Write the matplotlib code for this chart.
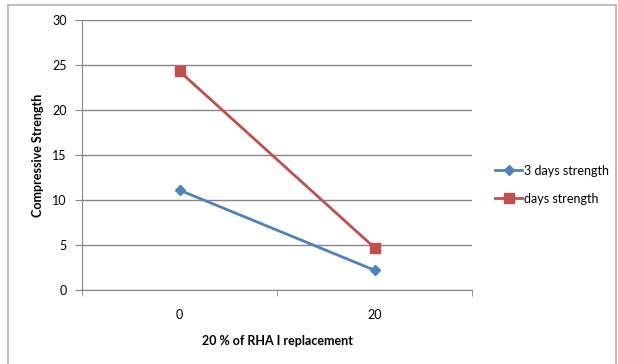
import matplotlib
matplotlib.use("Agg")
import matplotlib.pyplot as plt
from matplotlib.patches import Rectangle

categories = ["0", "20"]
strength_3day = [11.1, 2.2]
strength_days = [24.3, 4.7]
yticks = [0, 5, 10, 15, 20, 25, 30]

plt.rcParams['font.family'] = ['Lato', 'DejaVu Sans']

fig = plt.figure(figsize=(6.18, 3.64), dpi=100)
fig.patches.append(Rectangle((8 / 618, -0.01), 608 / 618, 1 - 5 / 364 + 0.01,
                             transform=fig.transFigure, fill=False,
                             edgecolor="#b0b0b0", linewidth=1.2))

ax = fig.add_axes([82 / 618, 1 - 290 / 364, 390 / 618, 270 / 364])
x = [0, 1]
ax.plot(x, strength_3day, color="#4F81BD", linewidth=2, marker="D",
        markersize=5.5, label="3 days strength")
ax.plot(x, strength_days, color="#C0504D", linewidth=2, marker="s",
        markersize=7.5, label="days strength")

ax.set_xlim(-0.5, 1.5)
ax.set_ylim(0, 30)
ax.set_yticks(yticks)
ax.set_xticks(x)
ax.set_xticklabels(categories)
ax.set_xticks([-0.5, 0.5, 1.5], minor=True)
ax.tick_params(axis="x", which="major", length=0, pad=14, labelsize=9)
ax.tick_params(axis="x", which="minor", length=4, color="#868686", direction="out")
ax.tick_params(axis="y", length=5, color="#868686", labelsize=9, pad=6)
ax.yaxis.grid(True, color="#868686", linewidth=1)
ax.set_axisbelow(True)
for s in ["top", "right"]:
    ax.spines[s].set_visible(False)
for s in ["left", "bottom"]:
    ax.spines[s].set_color("#868686")

ax.set_ylabel("Compressive Strength", fontsize=9, fontweight="bold", labelpad=6)
ax.set_xlabel("20 % of RHA I replacement", fontsize=9, fontweight="bold", labelpad=10)

ax.legend(loc="center left", bbox_to_anchor=(1.03, 0.39), frameon=False,
          fontsize=9, handlelength=2.2, handletextpad=0.1, labelspacing=1.3)

fig.savefig("out.png", dpi=100)
